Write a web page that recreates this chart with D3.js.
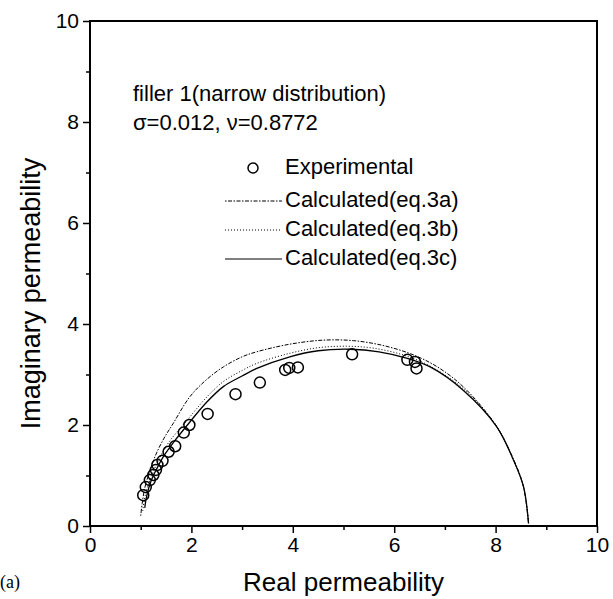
<!DOCTYPE html>
<html>
<head>
<meta charset="utf-8">
<script src="https://cdnjs.cloudflare.com/ajax/libs/d3/7.8.5/d3.min.js"></script>
<style>
  body { margin: 0; background: #fff; }
  svg { display: block; }
  text { font-family: "Liberation Sans", Arial, sans-serif; fill: #000; }
  .tick text { font-size: 21px; }
</style>
</head>
<body>
<div id="chart"></div>
<script>
// dados (parte real, parte imaginária)
const expReal = [1.05, 1.10, 1.18, 1.25, 1.30, 1.33, 1.43, 1.55, 1.68, 1.85, 1.96, 2.32, 2.87, 3.35, 3.85, 3.93, 4.10, 5.17, 6.26, 6.41, 6.44];
const expImag = [0.61, 0.77, 0.91, 1.01, 1.11, 1.21, 1.29, 1.47, 1.58, 1.85, 2.00, 2.22, 2.61, 2.84, 3.09, 3.13, 3.14, 3.40, 3.29, 3.25, 3.12];

const calcA = [[1.00,0.20],[1.03,0.45],[1.08,0.75],[1.15,1.00],[1.28,1.37],[1.45,1.72],[1.64,2.03],[1.97,2.56],[2.30,2.90],[2.63,3.15],[3.00,3.35],[3.29,3.45],[3.94,3.60],[4.60,3.68],[5.20,3.67],[5.80,3.57],[6.40,3.38],[6.90,3.12],[7.40,2.72],[8.00,2.00],[8.35,1.33],[8.55,0.78],[8.65,0.05]];
const calcB = [[1.04,0.30],[1.10,0.65],[1.20,0.95],[1.35,1.30],[1.55,1.65],[1.97,2.16],[2.30,2.55],[2.63,2.86],[3.00,3.08],[3.29,3.22],[3.94,3.42],[4.50,3.53],[5.06,3.56],[5.60,3.52],[6.20,3.38],[6.70,3.17],[7.36,2.72],[8.02,1.98],[8.35,1.31],[8.55,0.78],[8.65,0.05]];
const calcC = [[1.08,0.36],[1.12,0.60],[1.20,0.88],[1.30,1.10],[1.45,1.38],[1.65,1.66],[1.97,2.06],[2.30,2.45],[2.63,2.76],[3.00,2.97],[3.29,3.12],[3.94,3.35],[4.50,3.47],[5.13,3.50],[5.70,3.45],[6.26,3.32],[6.71,3.15],[7.36,2.69],[8.02,1.97],[8.35,1.31],[8.55,0.78],[8.65,0.05]];

const xTicks = [0, 2, 4, 6, 8, 10];
const yTicks = [0, 2, 4, 6, 8, 10];
const minorTicks = [1, 3, 5, 7, 9];

const series = [
  { label: "Calculated(eq.3a)", data: calcA, dash: "1.5,1.5,4,1.5" },
  { label: "Calculated(eq.3b)", data: calcB, dash: "1,2" },
  { label: "Calculated(eq.3c)", data: calcC, dash: null }
];

const width = 613, height = 599;
const margin = { top: 21, right: 16, bottom: 73, left: 90 };

const svg = d3.select("#chart").append("svg")
  .attr("width", width)
  .attr("height", height);

const x = d3.scaleLinear().domain([0, 10]).range([margin.left, width - margin.right]);
const y = d3.scaleLinear().domain([0, 10]).range([height - margin.bottom, margin.top]);

// ticks menores
svg.append("g")
  .attr("transform", `translate(0,${y(0)})`)
  .call(d3.axisBottom(x).tickValues(minorTicks).tickSize(4).tickFormat(""))
  .call(g => g.select(".domain").remove())
  .selectAll("line").attr("stroke-width", 1.5);
svg.append("g")
  .attr("transform", `translate(${x(0)},0)`)
  .call(d3.axisLeft(y).tickValues(minorTicks).tickSize(4).tickFormat(""))
  .call(g => g.select(".domain").remove())
  .selectAll("line").attr("stroke-width", 1.5);

// eixos principais
svg.append("g")
  .attr("transform", `translate(0,${y(0)})`)
  .call(d3.axisBottom(x).tickValues(xTicks).tickSize(7).tickSizeOuter(0).tickPadding(4))
  .call(g => g.select(".domain").remove())
  .selectAll("line").attr("stroke-width", 1.5);
svg.append("g")
  .attr("transform", `translate(${x(0)},0)`)
  .call(d3.axisLeft(y).tickValues(yTicks).tickSize(7).tickSizeOuter(0).tickPadding(4))
  .call(g => g.select(".domain").remove())
  .selectAll("line").attr("stroke-width", 1.5);

svg.selectAll(".tick text").attr("fill", "#000");

// moldura
svg.append("rect")
  .attr("x", x(0)).attr("y", y(10))
  .attr("width", x(10) - x(0)).attr("height", y(0) - y(10))
  .attr("fill", "none").attr("stroke", "#000").attr("stroke-width", 2);

// curvas calculadas
const line = d3.line()
  .x(d => x(d[0]))
  .y(d => y(d[1]))
  .curve(d3.curveCatmullRom);

series.forEach(s => {
  svg.append("path")
    .datum(s.data)
    .attr("d", line)
    .attr("fill", "none")
    .attr("stroke", "#000")
    .attr("stroke-width", s.dash ? 1 : 1.3)
    .attr("stroke-dasharray", s.dash);
});

// pontos experimentais
svg.append("g").selectAll("circle")
  .data(expReal.map((v, i) => [v, expImag[i]]))
  .join("circle")
  .attr("cx", d => x(d[0]))
  .attr("cy", d => y(d[1]))
  .attr("r", 5.5)
  .attr("fill", "none")
  .attr("stroke", "#000")
  .attr("stroke-width", 1.5);

// anotação
svg.append("text").attr("x", 133).attr("y", 101).style("font-size", "22px")
  .text("filler 1(narrow distribution)");
svg.append("text").attr("x", 133).attr("y", 130).style("font-size", "22px")
  .text("σ=0.012, ν=0.8772");

// legenda
const lg = svg.append("g");
lg.append("circle").attr("cx", 253).attr("cy", 168).attr("r", 5)
  .attr("fill", "none").attr("stroke", "#000").attr("stroke-width", 1.5);
lg.append("text").attr("x", 285).attr("y", 174).style("font-size", "22px").text("Experimental");
series.forEach((s, i) => {
  const ly = 201 + i * 29;
  lg.append("line")
    .attr("x1", 225).attr("x2", 282).attr("y1", ly).attr("y2", ly)
    .attr("stroke", "#000").attr("stroke-width", 1)
    .attr("stroke-dasharray", s.dash);
  lg.append("text").attr("x", 285).attr("y", ly + 6).style("font-size", "22px").text(s.label);
});

// títulos dos eixos
svg.append("text")
  .attr("x", (x(0) + x(10)) / 2).attr("y", 591)
  .attr("text-anchor", "middle").style("font-size", "26px")
  .text("Real permeability");
svg.append("text")
  .attr("transform", `translate(40,${(y(0) + y(10)) / 2 + 20}) rotate(-90)`)
  .attr("text-anchor", "middle").style("font-size", "27px")
  .text("Imaginary permeability");

svg.append("text")
  .attr("x", 0).attr("y", 588)
  .style("font-family", "'Liberation Serif', serif").style("font-size", "18px")
  .text("(a)");
</script>
</body>
</html>
